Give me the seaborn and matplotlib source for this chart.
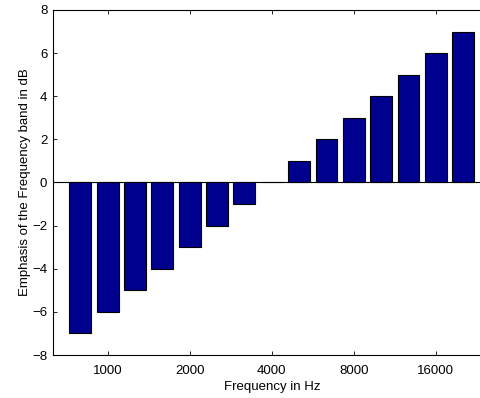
import matplotlib
matplotlib.use("Agg")
import matplotlib.pyplot as plt
import seaborn as sns
import pandas as pd

# third-octave band centres and the gain applied to each band
bands = ["800", "1000", "1250", "1600", "2000", "2500", "3150", "4000",
         "5000", "6300", "8000", "10000", "12500", "16000", "20000"]
gain_db = [-7, -6, -5, -4, -3, -2, -1, 0, 1, 2, 3, 4, 5, 6, 7]
tick_bands = ["1000", "2000", "4000", "8000", "16000"]

df = pd.DataFrame({"band": bands, "gain": gain_db})

sns.set_style("white")
plt.rcParams["font.family"] = ["Liberation Sans", "DejaVu Sans"]
plt.rcParams["axes.unicode_minus"] = True
plt.rcParams["text.color"] = "black"
plt.rcParams["axes.labelcolor"] = "black"
plt.rcParams["xtick.color"] = "black"
plt.rcParams["ytick.color"] = "black"

fig = plt.figure(figsize=(4.81, 3.98), dpi=100)
# axes run past the right edge of the image, as in the reference
ax = fig.add_axes([0.110, 0.108, 0.910, 0.867])

sns.barplot(data=df, x="band", y="gain", order=bands, color="#00008F",
            saturation=1, width=0.8, edgecolor="black", linewidth=0.8, ax=ax)
ax.axhline(0, color="black", linewidth=0.8, zorder=0.5)

ax.set_xlim(-1, 15)
ax.set_ylim(-8, 8)
ax.set_yticks(range(-8, 9, 2))
ax.set_xticks([bands.index(b) for b in tick_bands])
ax.set_xticklabels(tick_bands)

ax.set_xlabel("Frequency in Hz", fontsize=9.5, labelpad=3)
ax.set_ylabel("Emphasis of the Frequency band in dB", fontsize=9.5, labelpad=1)

for s in ax.spines.values():
    s.set_visible(True)
    s.set_color("black")
    s.set_linewidth(0.8)
ax.tick_params(direction="in", length=3, width=0.6, labelsize=9.5,
               top=True, right=True, bottom=True, left=True)
ax.tick_params(axis="x", pad=7)
ax.tick_params(axis="y", pad=4)

fig.savefig("out.png", dpi=100)
